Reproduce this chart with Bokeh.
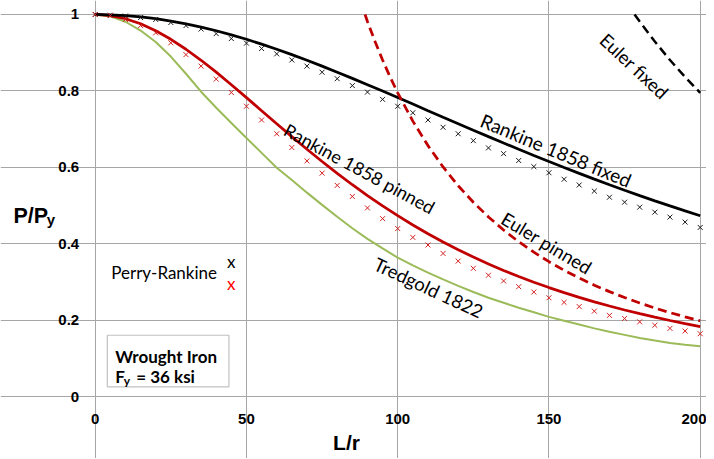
from bokeh.plotting import figure
from bokeh.models import Label, BoxAnnotation, FixedTicker, CustomJSTickFormatter, Range1d
from bokeh.embed import file_html
from bokeh.resources import INLINE

# ---------------- data ----------------
lr_marks = [0, 5, 10, 15, 20, 25, 30, 35, 40, 45, 50, 55, 60, 65, 70, 75, 80, 85, 90, 95,
            100, 105, 110, 115, 120, 125, 130, 135, 140, 145, 150, 155, 160, 165, 170, 175,
            180, 185, 190, 195, 200]
perry_fixed = [1.000, 0.998, 0.996, 0.992, 0.987, 0.979, 0.971, 0.962, 0.950, 0.937,
               0.925, 0.911, 0.897, 0.881, 0.865, 0.849, 0.832, 0.814, 0.797, 0.778,
               0.760, 0.743, 0.724, 0.705, 0.688, 0.670, 0.651, 0.636, 0.618, 0.602,
               0.586, 0.569, 0.554, 0.538, 0.522, 0.509, 0.496, 0.483, 0.470, 0.457, 0.443]
perry_pinned = [1.000, 0.997, 0.987, 0.971, 0.952, 0.926, 0.895, 0.865, 0.831, 0.796,
                0.760, 0.724, 0.688, 0.652, 0.617, 0.585, 0.553, 0.524, 0.494, 0.466,
                0.440, 0.417, 0.397, 0.375, 0.355, 0.336, 0.318, 0.303, 0.288, 0.274,
                0.259, 0.247, 0.236, 0.224, 0.213, 0.205, 0.196, 0.187, 0.179, 0.172, 0.165]

lr_line = [0, 5, 10, 15, 20, 25, 30, 35, 40, 45, 50, 55, 60, 65, 70, 75, 80, 85, 90, 95,
           100, 105, 110, 115, 120, 125, 130, 135, 140, 145, 150, 155, 160, 165, 170, 175,
           180, 185, 190, 195, 200]
rankine_fixed = [1.000, 0.9993, 0.9972, 0.9938, 0.9890, 0.9829, 0.9756, 0.9671, 0.9574, 0.9467,
                 0.9351, 0.9225, 0.9091, 0.8950, 0.8802, 0.8649, 0.8491, 0.8329, 0.8163, 0.7996,
                 0.7826, 0.7656, 0.7484, 0.7313, 0.7143, 0.6973, 0.6805, 0.6639, 0.6475, 0.6313,
                 0.6154, 0.5997, 0.5844, 0.5694, 0.5547, 0.5403, 0.5263, 0.5126, 0.4993, 0.4863, 0.4737]
rankine_pinned = [1.000, 0.9972, 0.9890, 0.9756, 0.9574, 0.9351, 0.9091, 0.8802, 0.8491, 0.8163,
                  0.7826, 0.7484, 0.7143, 0.6805, 0.6475, 0.6154, 0.5844, 0.5547, 0.5263, 0.4993,
                  0.4737, 0.4494, 0.4265, 0.4050, 0.3846, 0.3655, 0.3475, 0.3306, 0.3147, 0.2997,
                  0.2857, 0.2725, 0.2601, 0.2484, 0.2375, 0.2271, 0.2174, 0.2082, 0.1996, 0.1914, 0.1837]
tredgold = [1.000, 0.995, 0.981, 0.958, 0.928, 0.890, 0.845, 0.798, 0.756, 0.716,
            0.677, 0.638, 0.599, 0.567, 0.534, 0.502, 0.471, 0.441, 0.413, 0.388,
            0.364, 0.344, 0.325, 0.307, 0.290, 0.274, 0.259, 0.246, 0.233, 0.221,
            0.209, 0.199, 0.189, 0.179, 0.170, 0.162, 0.154, 0.147, 0.141, 0.136, 0.132]

lr_euler_pinned = [89.2, 90, 92.5, 95, 97.5, 100, 105, 110, 115, 120, 125, 130, 135, 140, 145,
                   150, 155, 160, 165, 170, 175, 180, 185, 190, 195, 200]
euler_pinned = [1.000, 0.9816, 0.9292, 0.8810, 0.8364, 0.7951, 0.7211, 0.6571, 0.6012, 0.5521,
                0.5088, 0.4705, 0.4362, 0.4056, 0.3782, 0.3534, 0.3309, 0.3106, 0.2920, 0.2751,
                0.2596, 0.2454, 0.2323, 0.2202, 0.2091, 0.1988]
lr_euler_fixed = [178.3, 180, 185, 190, 195, 200]
euler_fixed = [1.000, 0.9815, 0.9292, 0.8809, 0.8364, 0.7951]

x_ticks = [0, 50, 100, 150, 200]
y_ticks = [0, 0.2, 0.4, 0.6, 0.8, 1]

# ---------------- figure ----------------
GRAY = "#A6A6A6"
BLACK = "#000000"
RED = "#C00000"
RED_MARK = "#D42020"
GREEN = "#9BBB59"
ANN_FONT = "Lato"
AX_FONT = "Liberation Sans"

# the frame spans the whole canvas; the axes sit at x=0 / y=0 so that the
# axis titles can live inside the frame
p = figure(width=706, height=458,
           x_range=Range1d(-31.31, 202.08), y_range=Range1d(-0.1614, 1.0366),
           output_backend="svg", toolbar_location=None,
           min_border_left=0, min_border_right=0, min_border_top=0, min_border_bottom=0)
p.background_fill_color = "white"
p.border_fill_color = "white"
p.outline_line_color = None

p.xaxis.ticker = FixedTicker(ticks=x_ticks)
p.yaxis.ticker = FixedTicker(ticks=y_ticks)
p.yaxis.formatter = CustomJSTickFormatter(code="return String(Math.round(tick*10)/10);")
p.xaxis.fixed_location = 0
p.yaxis.fixed_location = 0
for ax in (p.xaxis[0], p.yaxis[0]):
    ax.axis_line_color = None
    ax.major_tick_line_color = None
    ax.minor_tick_line_color = None
    ax.major_tick_out = 0
    ax.major_tick_in = 0
    ax.minor_tick_out = 0
    ax.major_label_text_font = AX_FONT
    ax.major_label_text_font_style = "bold"
    ax.major_label_text_font_size = "15px"
    ax.major_label_text_color = "black"
p.xaxis.major_label_standoff = 17
p.yaxis.major_label_standoff = 16
p.xgrid.grid_line_color = GRAY
p.ygrid.grid_line_color = GRAY
p.xgrid.grid_line_width = 1
p.ygrid.grid_line_width = 1
p.xgrid.bounds = (0, 1)
p.ygrid.bounds = (0, 200)

# lines
p.line(lr_line, tredgold, line_color=GREEN, line_width=2)
p.line(lr_line, rankine_pinned, line_color=RED, line_width=2.75)
p.line(lr_line, rankine_fixed, line_color=BLACK, line_width=2.75)
p.line(lr_euler_pinned, euler_pinned, line_color=RED, line_width=2.75, line_dash="9 5")
p.line(lr_euler_fixed, euler_fixed, line_color=BLACK, line_width=2.5, line_dash="9 5")

# markers
p.scatter(lr_marks, perry_fixed, marker="x", size=7, line_color="#1a1a1a", line_width=1)
p.scatter(lr_marks, perry_pinned, marker="x", size=7, line_color=RED_MARK, line_width=1)

# ---------------- annotations ----------------
p.add_layout(BoxAnnotation(left=4.0, right=44.2, bottom=0.026, top=0.161,
                           fill_color="white", fill_alpha=1.0,
                           line_color="#333333", line_width=1.2))


def lab(text, dx, dy, size="17px", font=ANN_FONT, style="normal", color="black",
        angle=0.0, align="left", baseline="alphabetic"):
    p.add_layout(Label(x=0, y=0, x_offset=dx, y_offset=dy, text=text,
                       text_font=font, text_font_size=size, text_font_style=style,
                       text_color=color, angle=angle, text_align=align,
                       text_baseline=baseline))


# curve labels
lab("Rankine 1858 fixed", 460.8, 246.6, size="19px", angle=-0.394, align="center", baseline="middle")
lab("Rankine 1858 pinned", 264.3, 228.3, size="18px", angle=-0.497, align="center", baseline="middle")
lab("Euler pinned", 451.6, 153.6, size="18.5px", angle=-0.541, align="center", baseline="middle")
lab("Euler fixed", 539.1, 330.6, size="18.5px", angle=-0.75, align="center", baseline="middle")
lab("Tredgold 1822", 333.3, 109.1, size="18.5px", angle=-0.436, align="center", baseline="middle")

# legend-like text
lab("Perry-Rankine", 16, 124.5)
lab("x", 136, 135.5, align="center")
lab("x", 136, 113, align="center", color="#FF0000")

# material box
lab("Wrought Iron", 20, 40, style="bold")
lab("F", 20, 20, style="bold")
lab("y", 28.5, 15.8, size="12px", style="bold")
lab("= 36 ksi", 41, 20, style="bold")

# axis titles
lab("P/P", -81.7, 181, size="21.5px", font=AX_FONT, style="bold")
lab("y", -48.5, 177.5, size="15px", font=AX_FONT, style="bold")
lab("L/r", 251.3, -46, size="21px", font=AX_FONT, style="bold", align="center",
    baseline="middle")

open("out.html", "w").write(file_html(p, INLINE))
